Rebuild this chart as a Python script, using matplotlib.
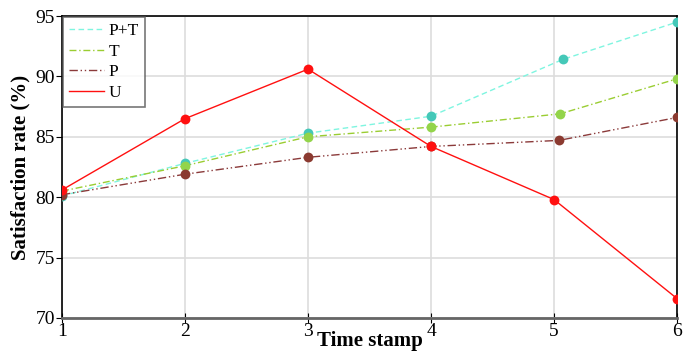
import numpy as np
import matplotlib
matplotlib.use('Agg')
import matplotlib.pyplot as plt

plt.rcParams['font.family'] = ['Liberation Serif', 'DejaVu Serif']

# Values
x_pt = [1, 2, 3, 4, 5.07, 6]
y_pt = [80.1, 82.8, 85.3, 86.7, 91.4, 94.5]
x_t = [1, 2, 3, 4, 5.05, 6]
y_t = [80.5, 82.6, 85.0, 85.8, 86.9, 89.8]
x_p = [1, 2, 3, 4, 5.04, 6]
y_p = [80.2, 81.9, 83.3, 84.2, 84.7, 86.6]
x_u = [1, 2, 3, 4, 5, 6]
y_u = [80.6, 86.5, 90.6, 84.2, 79.8, 71.6]

fig = plt.figure(figsize=(6.93, 3.56), dpi=100)
ax = fig.add_axes([0.0895, 0.107, 0.8875, 0.848])

ax.grid(True, color='#dddddd', linewidth=1.2, zorder=0)

ax.plot(x_pt, y_pt, color='#7ff5e0', linestyle=(0, (4, 2.5)), linewidth=1,
        label='P+T', zorder=3)
ax.plot(x_t, y_t, color='#9acd32', linestyle=(0, (5, 2, 1, 2)), linewidth=1,
        label='T', zorder=3)
ax.plot(x_p, y_p, color='#8b3a3a', linestyle=(0, (6, 2, 1, 2, 1, 2)), linewidth=1,
        label='P', zorder=3)
ax.plot(x_u, y_u, color='#ff1010', linestyle='-', linewidth=1,
        label='U', zorder=3)

# markers
ax.scatter(x_pt, y_pt, s=50, color='#45c8b8', zorder=4, linewidths=0)
ax.scatter(x_t, y_t, s=50, color='#93d44a', zorder=5, linewidths=0)
ax.scatter(x_p, y_p, s=50, color='#8b3a30', zorder=6, linewidths=0)
ax.scatter(x_u, y_u, s=50, color='#ff1010', zorder=7, linewidths=0)

ax.set_xlim(1, 6)
ax.set_ylim(70, 95)
ax.set_xticks([1, 2, 3, 4, 5, 6])
ax.set_yticks([70, 75, 80, 85, 90, 95])
ax.tick_params(axis='both', labelsize=14, length=4, color='black', pad=1)
ax.tick_params(axis='x', direction='inout', length=7, pad=0)

for side in ['left', 'top', 'right']:
    ax.spines[side].set_color('black')
    ax.spines[side].set_linewidth(1.2)
ax.spines['bottom'].set_color('#666666')
ax.spines['bottom'].set_linewidth(2)

ax.set_ylabel('Satisfaction rate (%)', fontsize=15, fontweight='bold', labelpad=4)
ax.set_xlabel('Time stamp', fontsize=15, fontweight='bold', labelpad=-6)

leg = ax.legend(loc='upper left', fontsize=12.5, frameon=True, fancybox=False,
                handlelength=2.0, handletextpad=0.3, borderpad=0.35,
                labelspacing=0.25, borderaxespad=0.05)
leg.get_frame().set_edgecolor('#555555')
leg.get_frame().set_linewidth(1.2)

fig.savefig('out.png', dpi=100)
